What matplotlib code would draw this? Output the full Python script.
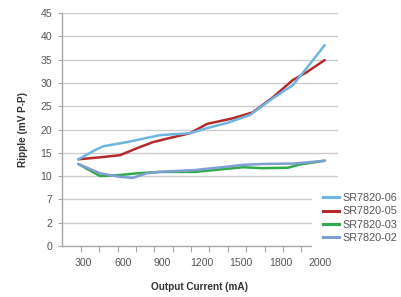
import numpy as np
import matplotlib
matplotlib.use("Agg")
import matplotlib.pyplot as plt
from matplotlib.lines import Line2D

# ---- data ----
x_labels = [300, 600, 900, 1200, 1500, 1800, 2000]
y_tick_vals = [-5, 0, 5, 10, 15, 20, 25, 30, 35, 40, 45]
y_tick_labels = ["0", "2", "7", "10", "15", "20", "25", "30", "35", "40", "45"]

x_06 = [262, 391, 452, 634, 885, 1113, 1242, 1394, 1568, 1743, 1863, 1934, 2025]
y_06 = [13.6, 15.6, 16.4, 17.3, 18.8, 19.2, 20.3, 21.4, 23.1, 26.7, 29.5, 33.2, 38.1]

x_05 = [262, 452, 581, 710, 832, 961, 1113, 1242, 1439, 1591, 1743, 1863, 1934, 2025]
y_05 = [13.6, 14.1, 14.5, 16.0, 17.3, 18.2, 19.2, 21.2, 22.4, 23.7, 26.9, 30.6, 32.3, 34.9]

x_03 = [262, 429, 566, 710, 885, 1151, 1515, 1660, 1838, 1899, 2025]
y_03 = [12.6, 10.0, 10.2, 10.6, 10.9, 10.9, 11.9, 11.7, 11.8, 12.5, 13.3]

x_02 = [262, 429, 566, 672, 786, 885, 1151, 1515, 1660, 1873, 2025]
y_02 = [12.6, 10.6, 9.9, 9.6, 10.6, 10.9, 11.3, 12.4, 12.6, 12.7, 13.3]

series_names = ["SR7820-06", "SR7820-05", "SR7820-03", "SR7820-02"]
colors = ["#6db6e2", "#b52a2a", "#2fab4c", "#7f9ed6"]

XV = np.array(x_labels, float)
IDX = np.arange(len(XV), dtype=float)


def fwd(x):
    x = np.asarray(x, float)
    out = np.interp(x, XV, IDX)
    out = np.where(x < XV[0], (x - XV[0]) / (XV[1] - XV[0]), out)
    out = np.where(x > XV[-1], IDX[-1] + (x - XV[-1]) / (XV[-1] - XV[-2]), out)
    return out


def inv(u):
    u = np.asarray(u, float)
    out = np.interp(u, IDX, XV)
    out = np.where(u < 0, XV[0] + u * (XV[1] - XV[0]), out)
    out = np.where(u > IDX[-1], XV[-1] + (u - IDX[-1]) * (XV[-1] - XV[-2]), out)
    return out


plt.rcParams["font.family"] = ["Liberation Sans", "DejaVu Sans"]

fig = plt.figure(figsize=(4.02, 2.97), dpi=100)
ax = fig.add_axes([62 / 402, 1 - 246 / 297, 276 / 402, 233 / 297])

ax.set_xscale("function", functions=(fwd, inv))
ax.set_xlim(float(inv(-0.54)), float(inv(6.463)))
ax.set_ylim(-5, 45)

grid_c = "#cccccc"
for v in y_tick_vals[1:]:
    ax.axhline(v, color=grid_c, lw=1.0, zorder=1)

lw = 1.8
ax.plot(x_03, y_03, color=colors[2], lw=lw, zorder=3, solid_capstyle="round", solid_joinstyle="round")
ax.plot(x_02, y_02, color=colors[3], lw=lw, zorder=4, solid_capstyle="round", solid_joinstyle="round")
ax.plot(x_05, y_05, color=colors[1], lw=lw, zorder=3, solid_capstyle="round", solid_joinstyle="round")
ax.plot(x_06, y_06, color=colors[0], lw=lw, zorder=4, solid_capstyle="round", solid_joinstyle="round")

for s in ["top", "right"]:
    ax.spines[s].set_visible(False)
for s in ["left", "bottom"]:
    ax.spines[s].set_color("#a8a8a8")
    ax.spines[s].set_linewidth(1.0)

ax.set_yticks(y_tick_vals)
ax.set_yticklabels(y_tick_labels)
ax.tick_params(axis="y", length=3, width=0.8, color="#a8a8a8", pad=4,
               labelsize=7.6, labelcolor="#555555")

ax.set_xticks(x_labels)
ax.set_xticklabels([str(v) for v in x_labels])
ax.set_xticks(inv(np.linspace(-0.058, 6.463, 15)), minor=True)
ax.tick_params(axis="x", which="major", length=0, pad=9, labelsize=7.6,
               labelcolor="#555555")
ax.tick_params(axis="x", which="minor", length=4, width=0.8, color="#a8a8a8")

ax.set_xlabel("Output Current (mA)", fontsize=7.2, fontweight="bold",
              color="#333333", labelpad=10)
ax.set_ylabel("Ripple (mV P-P)", fontsize=7.2, fontweight="bold",
              color="#333333", labelpad=9)

handles = [Line2D([0], [0], color=c, lw=2.2) for c in colors]
leg = fig.legend(handles, series_names, loc="upper left",
                 bbox_to_anchor=(312 / 402, 1 - 182 / 297),
                 bbox_transform=fig.transFigure,
                 frameon=True, fontsize=7.8, handlelength=1.5,
                 handletextpad=0.3, labelspacing=0.32, borderpad=1.0,
                 borderaxespad=0)
leg.get_frame().set_facecolor("white")
leg.get_frame().set_edgecolor("none")
leg.get_frame().set_alpha(1.0)
for t in leg.get_texts():
    t.set_color("#555555")

fig.savefig("out.png", dpi=100)
